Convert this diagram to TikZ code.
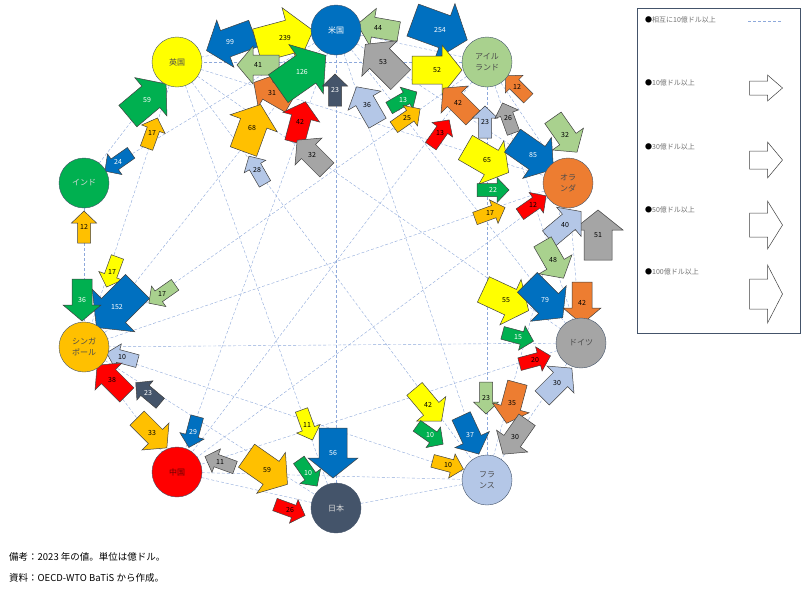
\documentclass[tikz,border=0pt]{standalone}
\usepackage{fontspec}
\setmainfont{Noto Sans CJK JP}
\definecolor{cUS}{HTML}{0070C0}
\definecolor{cIE}{HTML}{A9D18E}
\definecolor{cNL}{HTML}{ED7D31}
\definecolor{cDE}{HTML}{A5A5A5}
\definecolor{cFR}{HTML}{B4C7E7}
\definecolor{cJP}{HTML}{44546A}
\definecolor{cCN}{HTML}{FF0000}
\definecolor{cSG}{HTML}{FFC000}
\definecolor{cIN}{HTML}{00B050}
\definecolor{cUK}{HTML}{FFFF00}
\definecolor{lnk}{HTML}{8EA9DB}
\tikzset{
 ctry/.style={circle,draw=cJP,minimum size=50pt,inner sep=0pt,font=\fontsize{8}{11}\selectfont,align=center,text=black!70},
 link/.style={draw=lnk,densely dashed,line width=0.4pt},
 blockarrow/.style={draw=black!75,line width=0.5pt,line join=miter},
 lab/.style={font=\fontsize{7}{8}\selectfont,inner sep=0pt},
 legtxt/.style={font=\fontsize{7}{8}\selectfont,text=black!55,anchor=west,inner sep=0pt},
}
\def\sza{\def\aL{32}\def\ab{13}\def\aH{25}\def\ah{12}}
\def\szb{\def\aL{42}\def\ab{20}\def\aH{38}\def\ah{16}}
\def\szc{\def\aL{50}\def\ab{28}\def\aH{50}\def\ah{20}}
\def\szd{\def\aL{58}\def\ab{34}\def\aH{60}\def\ah{24}}
\newcommand\blockpath[4]{% x y angle fillcolor
 \begin{scope}[shift={(#1,#2)},rotate=#3]
 \draw[blockarrow,fill=#4] ({-\aL/2},{-\ab/2}) -- ({\aL/2-\ah},{-\ab/2}) -- ({\aL/2-\ah},{-\aH/2}) -- ({\aL/2},0) -- ({\aL/2-\ah},{\aH/2}) -- ({\aL/2-\ah},{\ab/2}) -- ({-\aL/2},{\ab/2}) -- cycle;
 \end{scope}}
\newcommand\flw[8]{%
 \csname sz#5\endcsname
 \blockpath{#2}{#3}{#4}{#6}
 \node[lab,text=#8] (t#1) at (#2,#3) {#7};}
\begin{document}
\begin{tikzpicture}[x=1pt,y=-1pt]
\useasboundingbox (0,0) rectangle (802,590);
\fill[white] (0,0) rectangle (802,590);
\coordinate (US) at (336,30);
\coordinate (IE) at (487,62);
\coordinate (NL) at (568,183);
\coordinate (DE) at (581,343);
\coordinate (FR) at (487,480);
\coordinate (JP) at (336,508);
\coordinate (CN) at (177,472);
\coordinate (SG) at (84,347);
\coordinate (IN) at (84,183);
\coordinate (UK) at (177,62);
\foreach \a/\b in {US/UK,US/IE,US/NL,US/DE,US/JP,US/CN,US/SG,US/FR,US/IN,IE/FR,IE/NL,IE/DE,IE/UK,IE/SG,IE/CN,UK/NL,UK/DE,UK/FR,UK/JP,UK/IN,UK/SG,NL/DE,NL/FR,NL/CN,NL/SG,DE/FR,DE/CN,DE/SG,IN/SG,SG/CN,SG/FR,SG/JP,CN/JP,CN/FR,JP/FR}
 \draw[link] (\a) -- (\b);
\flw{1}{230}{42}{200}{c}{cUS}{99}{white}
\flw{2}{285}{38}{15}{d}{cUK}{239}{black}
\flw{3}{258}{65}{180}{b}{cIE}{41}{black}
\flw{5}{272}{93}{150}{b}{cNL}{31}{black}
\flw{4}{302}{72}{35}{d}{cIN}{126}{white}
\flw{6}{335}{90}{90}{a}{cJP}{23}{white}
\flw{7}{378}{28}{170}{b}{cIE}{44}{black}
\flw{8}{383}{62}{135}{c}{cDE}{53}{black}
\flw{9}{367}{105}{120}{b}{cFR}{36}{black}
\flw{10}{440}{30}{-20}{d}{cUS}{254}{white}
\flw{11}{437}{70}{0}{c}{cUK}{52}{black}
\flw{12}{403}{100}{30}{a}{cIN}{13}{white}
\flw{13}{407}{118}{35}{a}{cSG}{25}{black}
\flw{14}{458}{103}{135}{b}{cNL}{42}{black}
\flw{15}{440}{133}{55}{a}{cCN}{13}{black}
\flw{16}{517}{87}{135}{a}{cNL}{12}{black}
\flw{17}{485}{122}{90}{a}{cFR}{23}{black}
\flw{18}{508}{118}{110}{a}{cDE}{26}{black}
\flw{19}{565}{135}{-55}{b}{cIE}{32}{black}
\flw{21}{487}{160}{-30}{c}{cUK}{65}{black}
\flw{20}{533}{155}{-35}{c}{cUS}{85}{white}
\flw{22}{493}{190}{0}{a}{cIN}{22}{white}
\flw{23}{490}{213}{20}{a}{cSG}{17}{black}
\flw{24}{533}{205}{35}{a}{cCN}{12}{black}
\flw{26}{598}{235}{90}{c}{cDE}{51}{black}
\flw{25}{565}{225}{40}{b}{cFR}{40}{black}
\flw{27}{553}{260}{-60}{b}{cIE}{48}{black}
\flw{28}{252}{128}{70}{c}{cSG}{68}{black}
\flw{29}{300}{122}{75}{b}{cCN}{42}{black}
\flw{30}{257}{170}{120}{a}{cFR}{28}{black}
\flw{31}{312}{155}{135}{b}{cDE}{32}{black}
\flw{32}{147}{100}{40}{c}{cIN}{59}{white}
\flw{33}{152}{133}{70}{a}{cSG}{17}{black}
\flw{34}{118}{162}{215}{a}{cUS}{24}{white}
\flw{35}{84}{227}{90}{a}{cSG}{12}{black}
\flw{36}{112}{272}{250}{a}{cUK}{17}{black}
\flw{38}{117}{307}{225}{d}{cUS}{152}{white}
\flw{37}{82}{300}{270}{b}{cIN}{36}{white}
\flw{39}{162}{294}{215}{a}{cIE}{17}{black}
\flw{40}{122}{357}{165}{a}{cFR}{10}{black}
\flw{41}{112}{380}{135}{b}{cCN}{38}{black}
\flw{42}{148}{393}{140}{a}{cJP}{23}{white}
\flw{43}{152}{433}{-45}{b}{cSG}{33}{black}
\flw{44}{193}{432}{-105}{a}{cUS}{29}{white}
\flw{45}{220}{462}{160}{a}{cDE}{11}{black}
\flw{46}{267}{470}{-35}{c}{cSG}{59}{black}
\flw{47}{307}{425}{-70}{a}{cUK}{11}{black}
\flw{48}{308}{473}{-55}{a}{cIN}{10}{white}
\flw{49}{333}{453}{270}{c}{cUS}{56}{white}
\flw{50}{290}{510}{-20}{a}{cCN}{26}{black}
\flw{51}{506}{300}{-25}{c}{cUK}{55}{black}
\flw{52}{545}{300}{-45}{c}{cUS}{79}{white}
\flw{53}{582}{303}{270}{b}{cNL}{42}{black}
\flw{54}{518}{337}{-15}{a}{cIN}{15}{white}
\flw{55}{535}{360}{15}{a}{cCN}{20}{black}
\flw{56}{557}{383}{45}{b}{cFR}{30}{black}
\flw{57}{428}{405}{-50}{b}{cUK}{42}{black}
\flw{58}{430}{435}{-35}{a}{cIN}{10}{white}
\flw{59}{448}{465}{-15}{a}{cSG}{10}{black}
\flw{60}{470}{435}{-65}{b}{cUS}{37}{white}
\flw{61}{486}{398}{270}{a}{cIE}{23}{black}
\flw{62}{512}{403}{-105}{b}{cNL}{35}{black}
\flw{63}{515}{437}{-125}{b}{cDE}{30}{black}
\node[ctry,fill=cUS,text=white] (nUS) at (US) {米国};
\node[ctry,fill=cIE] (nIE) at (IE) {アイル\\ランド};
\node[ctry,fill=cNL] (nNL) at (NL) {オラ\\ンダ};
\node[ctry,fill=cDE] (nDE) at (DE) {ドイツ};
\node[ctry,fill=cFR] (nFR) at (FR) {フラ\\ンス};
\node[ctry,fill=cJP,text=black!15] (nJP) at (JP) {日本};
\node[ctry,fill=cCN,text=black!60!red] (nCN) at (CN) {中国};
\node[ctry,fill=cSG] (nSG) at (SG) {シンガ\\ポール};
\node[ctry,fill=cIN,text=white!85!black] (nIN) at (IN) {インド};
\node[ctry,fill=cUK] (nUK) at (UK) {英国};
\node[draw=cJP,line width=0.8pt,minimum width=163pt,minimum height=325pt,anchor=north west,inner sep=0pt] (leg) at (637,8) {};
\node[legtxt] (l0) at (645,20) {\textcolor{black}{●}相互に10億ドル以上};
\coordinate (d1) at (748,21); \coordinate (d2) at (782,21);
\draw[link] (d1) -- (d2);
\node[legtxt] (l1) at (645,83) {\textcolor{black}{●}10億ドル以上};
\node[legtxt] (l2) at (645,147) {\textcolor{black}{●}30億ドル以上};
\node[legtxt] (l3) at (645,210) {\textcolor{black}{●}50億ドル以上};
\node[legtxt] (l4) at (645,272) {\textcolor{black}{●}100億ドル以上};
\def\aL{33}\def\ab{14}\def\aH{26}\def\ah{15}\blockpath{766}{88}{0}{white}
\def\aL{33}\def\ab{18}\def\aH{36}\def\ah{15}\blockpath{766}{160}{0}{white}
\def\aL{33}\def\ab{24}\def\aH{48}\def\ah{15}\blockpath{766}{225}{0}{white}
\def\aL{33}\def\ab{30}\def\aH{58}\def\ah{15}\blockpath{766}{294}{0}{white}
\node[anchor=west,font=\fontsize{9.5}{11}\selectfont,inner sep=0pt] (n1) at (9,557) {備考：2023 年の値。単位は億ドル。};
\node[anchor=west,font=\fontsize{9.5}{11}\selectfont,inner sep=0pt] (n2) at (9,578) {資料：OECD-WTO BaTiS から作成。};
\end{tikzpicture}
\end{document}
